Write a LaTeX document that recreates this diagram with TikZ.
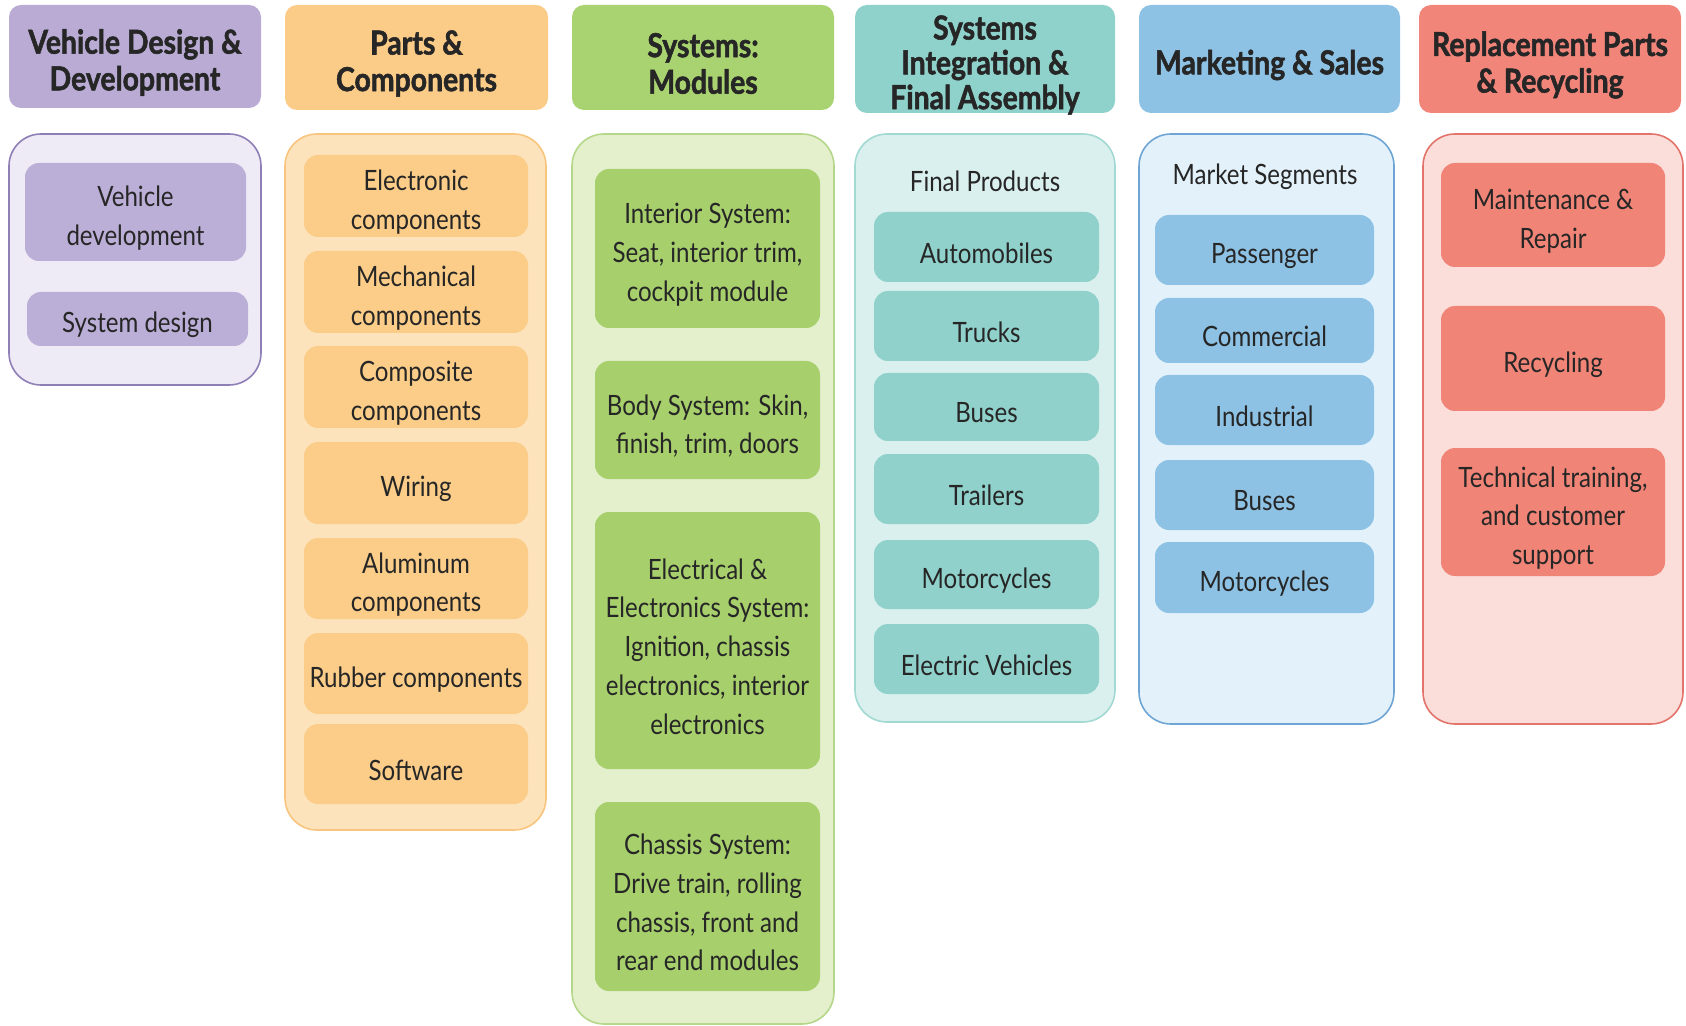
\documentclass[tikz,border=0pt]{standalone}
\usepackage{fontspec}
\setmainfont{Lato}[FakeStretch=0.86, BoldFeatures={FakeBold=1.6}]
\definecolor{txt}{HTML}{262626}
\definecolor{puH}{HTML}{B9ABD3}\definecolor{puP}{HTML}{EFEBF6}\definecolor{puB}{HTML}{8E80B6}\definecolor{puI}{HTML}{BBAFD7}
\definecolor{orH}{HTML}{FBCB88}\definecolor{orP}{HTML}{FDE3BC}\definecolor{orB}{HTML}{F8C47E}\definecolor{orI}{HTML}{FBCD88}
\definecolor{grH}{HTML}{A9D370}\definecolor{grP}{HTML}{E4F0CC}\definecolor{grB}{HTML}{B5D78A}\definecolor{grI}{HTML}{A7D06D}
\definecolor{teH}{HTML}{8FD2CC}\definecolor{teP}{HTML}{DAF0EE}\definecolor{teB}{HTML}{A2D9D3}\definecolor{teI}{HTML}{90D1CB}
\definecolor{blH}{HTML}{8DC2E4}\definecolor{blP}{HTML}{E3F1FA}\definecolor{blB}{HTML}{6EA5D4}\definecolor{blI}{HTML}{8DC2E4}
\definecolor{reH}{HTML}{F2857A}\definecolor{reP}{HTML}{FBDDD9}\definecolor{reB}{HTML}{E2746C}\definecolor{reI}{HTML}{F08577}
% #1 name, #2 style, #3-#6 box corners (px), #7 text
\newcommand\bx[7]{\node[#2, minimum width={(#5-#3)*0.5pt}, minimum height={(#6-#4)*0.5pt}] (#1) at ({(#3+#5)/2},{(#4+#6)/2}) {};
  \node[#2, fill=none, draw=none, yshift=-3pt] (#1t) at (#1.center) {#7};}
\begin{document}
\begin{tikzpicture}[x=0.5pt,y=-0.5pt,
  base/.style={inner sep=0pt, align=center, text=txt},
  head/.style={base, rounded corners=6pt, font=\fontsize{16.5}{18.3}\selectfont\bfseries},
  head3/.style={head, font=\fontsize{16.5}{17.4}\selectfont\bfseries},
  panel/.style={base, rounded corners=16pt, line width=0.8pt},
  item/.style={base, rounded corners=7pt, font=\fontsize{14}{19.4}\selectfont},
  lab/.style={base, font=\fontsize{14}{19.4}\selectfont},
  hpu/.style={head, fill=puH}, ppu/.style={panel, fill=puP, draw=puB}, ipu/.style={item, fill=puI},
  hor/.style={head, fill=orH}, por/.style={panel, fill=orP, draw=orB}, ior/.style={item, fill=orI},
  hgr/.style={head, fill=grH}, pgr/.style={panel, fill=grP, draw=grB}, igr/.style={item, fill=grI},
  hte/.style={head3, fill=teH}, pte/.style={panel, fill=teP, draw=teB}, ite/.style={item, fill=teI},
  hbl/.style={head, fill=blH}, pbl/.style={panel, fill=blP, draw=blB}, ibl/.style={item, fill=blI},
  hre/.style={head, fill=reH}, pre/.style={panel, fill=reP, draw=reB}, ire/.style={item, fill=reI}]
\useasboundingbox (0,0) rectangle (1686,1026);
% column 1
\bx{h1}{hpu}{9}{5}{261}{108}{Vehicle Design \&\\Development}
\bx{p1}{ppu}{9}{134}{261}{385}{}
\bx{vd}{ipu}{25}{163}{246}{261}{Vehicle\\development}
\bx{sd}{ipu}{27}{292}{248}{346}{System design}
% column 2
\bx{h2}{hor}{285}{5}{548}{110}{Parts \&\\Components}
\bx{p2}{por}{285}{134}{546}{830}{}
\bx{ec}{ior}{304}{155}{528}{237}{Electronic\\components}
\bx{mc}{ior}{304}{251}{528}{333}{Mechanical\\components}
\bx{cc}{ior}{304}{346}{528}{428}{Composite\\components}
\bx{wi}{ior}{304}{442}{528}{524}{Wiring}
\bx{al}{ior}{304}{538}{528}{619}{Aluminum\\components}
\bx{ru}{ior}{304}{633}{528}{714}{Rubber components}
\bx{so}{ior}{304}{724}{528}{804}{Software}
% column 3
\bx{h3}{hgr}{572}{5}{834}{110}{Systems:\\Modules}
\bx{p3}{pgr}{572}{134}{834}{1024}{}
\bx{is}{igr}{595}{169}{820}{328}{Interior System:\\Seat, interior trim,\\cockpit module}
\bx{bs}{igr}{595}{361}{820}{479}{Body System: Skin,\\finish, trim, doors}
\bx{es}{igr}{595}{512}{820}{769}{Electrical \&\\Electronics System:\\Ignition, chassis\\electronics, interior\\electronics}
\bx{cs}{igr}{595}{802}{820}{991}{Chassis System:\\Drive train, rolling\\chassis, front and\\rear end modules}
% column 4
\bx{h4}{hte}{855}{5}{1115}{113}{Systems\\Integration \&\\Final Assembly}
\bx{p4}{pte}{855}{134}{1115}{722}{}
\node[lab] (fp) at (985,181) {Final Products};
\bx{au}{ite}{874}{212}{1099}{282}{Automobiles}
\bx{tr}{ite}{874}{291}{1099}{361}{Trucks}
\bx{bu}{ite}{874}{373}{1099}{441}{Buses}
\bx{tl}{ite}{874}{454}{1099}{524}{Trailers}
\bx{mo}{ite}{874}{540}{1099}{609}{Motorcycles}
\bx{ev}{ite}{874}{624}{1099}{694}{Electric Vehicles}
% column 5
\bx{h5}{hbl}{1139}{5}{1400}{113}{Marketing \& Sales}
\bx{p5}{pbl}{1139}{134}{1394}{724}{}
\node[lab] (ms) at (1265,177) {Market Segments};
\bx{pa}{ibl}{1155}{215}{1374}{285}{Passenger}
\bx{co}{ibl}{1155}{298}{1374}{363}{Commercial}
\bx{in}{ibl}{1155}{375}{1374}{445}{Industrial}
\bx{bb}{ibl}{1155}{460}{1374}{530}{Buses}
\bx{mm}{ibl}{1155}{542}{1374}{613}{Motorcycles}
% column 6
\bx{h6}{hre}{1419}{5}{1681}{113}{Replacement Parts\\\& Recycling}
\bx{p6}{pre}{1423}{134}{1683}{724}{}
\bx{mr}{ire}{1441}{163}{1665}{267}{Maintenance \&\\Repair}
\bx{rc}{ire}{1441}{306}{1665}{411}{Recycling}
\bx{tt}{ire}{1441}{448}{1665}{576}{Technical training,\\and customer\\support}
\end{tikzpicture}
\end{document}
